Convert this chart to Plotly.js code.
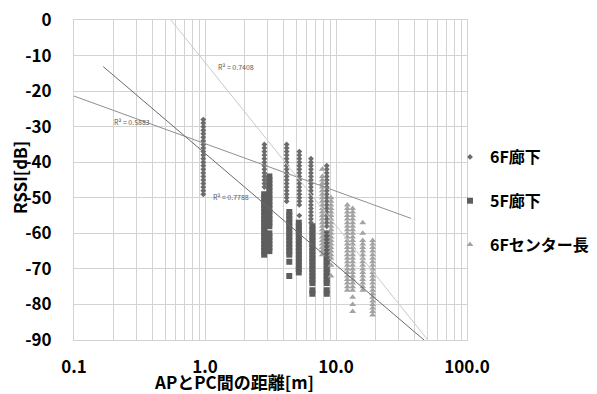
<!DOCTYPE html>
<html><head><meta charset="utf-8">
<script src="https://cdn.plot.ly/plotly-3.0.1.min.js"></script>
<style>html,body{margin:0;padding:0;background:#fff}#chart{width:597px;height:394px}</style>
</head><body><div id="chart"></div>
<script>
// ---- categories / labels ----
const seriesNames = ['6F廊下', '5F廊下', '6Fセンター長'];
const xTickVals = [0.1, 1, 10, 100];
const xTickText = ['0.1', '1.0', '10.0', '100.0'];
const yTickVals = [0, -10, -20, -30, -40, -50, -60, -70, -80, -90];
const yTickText = ['0', '-10', '-20', '-30', '-40', '-50', '-60', '-70', '-80', '-90'];
const xTitle = 'APとPC間の距離[m]';
const yTitle = 'RSSI[dB]';

// ---- 6F廊下 (distance, RSSI readings) ----
const corr6F_x = [0.97, 2.84, 4.2, 5.25, 6.44, 8.5];
const corr6F_y = [
  [-28,-29,-30,-31,-32,-33,-34,-35,-36,-37,-38,-39,-40,-41,-42,-43,-44,-45,-46,-47,-48,-49],
  [-35,-36,-37,-38,-39,-40,-41,-42,-43,-44,-45,-46,-47],
  [-35,-36,-37,-38,-39,-40,-41,-42,-43,-44,-45,-46,-47,-48,-49,-50,-51],
  [-37,-38,-39,-40,-41,-42,-43,-44,-45,-46,-47,-48,-49,-50,-51,-52,-55],
  [-39,-40,-41,-42,-43,-44,-45,-46,-47,-48,-49,-50,-51,-52,-53,-54,-55,-56,-57],
  [-41,-42,-43,-44,-45,-46,-47,-48,-49,-50,-51,-52,-53,-54,-55,-56,-57,-58,-60,-61,-62]
];

// ---- 5F廊下 ----
const corr5F_x = [2.83, 3.1, 4.4, 5.2, 6.6, 8.5];
const corr5F_y = [
  [-49,-50,-51,-52,-53,-54,-55,-56,-57,-58,-59,-60,-61,-62,-63,-64,-65,-66],
  [-44,-45,-46,-47,-48,-49,-50,-51,-52,-53,-54,-55,-56,-57,-58,-60,-61,-62,-63,-64,-65],
  [-54,-55,-56,-57,-58,-59,-60,-61,-62,-63,-64,-65,-66,-68,-72],
  [-57,-58,-59,-60,-61,-62,-63,-64,-65,-66,-67,-68,-69,-70,-71],
  [-58,-59,-60,-61,-62,-63,-64,-65,-66,-67,-68,-69,-70,-71,-72,-73,-74,-76,-77],
  [-60,-61,-62,-63,-64,-65,-66,-67,-68,-69,-70,-71,-72,-73,-74,-76,-77]
];

// ---- 6Fセンター長 ----
const center6F_x = [7.86, 9.16, 12.2, 13.4, 16.0, 19.05];
const center6F_y = [
  [-42,-44,-45,-46,-47,-48,-49,-50,-51,-52,-53,-54,-55,-56,-57,-58,-59,-60,-61,-62,-63,-64,-65,-66],
  [-50,-51,-52,-53,-54,-55,-56,-57,-58,-59,-60,-61,-62,-63,-64,-65,-66,-67,-69,-72],
  [-52,-53,-54,-55,-56,-57,-58,-59,-60,-61,-62,-63,-64,-65,-66,-67,-68,-69,-70,-71,-72,-73,-74,-75,-76],
  [-53,-54,-55,-56,-57,-58,-59,-60,-61,-62,-63,-64,-65,-66,-67,-68,-69,-70,-71,-72,-73,-74,-75,-76,-78,-80,-82],
  [-57,-60,-62,-63,-64,-65,-66,-67,-68,-69,-70,-71,-72,-73,-74,-75,-76],
  [-62,-63,-64,-65,-66,-67,-68,-69,-70,-71,-72,-73,-74,-75,-76,-77,-78,-79,-80,-81,-82,-83]
];

// ---- logarithmic trendlines: y = slope*log10(x) + intercept ----
const trendSlope = [-13.37, -31.4, -45.9];
const trendIntercept = [-34.77, -37.5, -11.93];
const trendXStart = [0.1, 0.167, 0.4];
const trendXEnd = [37.4, 60, 60];
const trendR2 = ['0.5883', '0.7788', '0.7408'];
const trendLabelX = [0.277, 1.58, 1.73];
const trendLabelY = [-28.7, -49.8, -13.2];

// ---- styling ----
const markerColors = ['#6b6b6b', '#5e5e5e', '#a3a3a3'];
const markerSymbols = ['diamond', 'square', 'triangle-up'];
const markerSizes = [4.5, 6, 6];
const trendColors = ['#8f8f8f', '#6a6a6a', '#c9c9c9'];
const FONT = '"Noto Sans CJK JP", "Noto Sans", sans-serif';
const gridColor = '#d3d3d3';

function flatten(xs, ys) {
  const X = [], Y = [];
  xs.forEach((x, i) => ys[i].forEach(v => { X.push(x); Y.push(v); }));
  return {X, Y};
}

const groups = [flatten(corr6F_x, corr6F_y), flatten(corr5F_x, corr5F_y), flatten(center6F_x, center6F_y)];
const traces = groups.map((g, i) => ({
  type: 'scatter', mode: 'markers', x: g.X, y: g.Y, name: seriesNames[i],
  legendgroup: 'g' + i,
  marker: {symbol: markerSymbols[i], size: markerSizes[i], color: markerColors[i], line: {width: 0}},
  cliponaxis: true
}));

trendSlope.forEach((m, i) => {
  const xs = [trendXStart[i], trendXEnd[i]];
  traces.push({
    type: 'scatter', mode: 'lines', x: xs,
    y: xs.map(x => m * Math.log10(x) + trendIntercept[i]),
    line: {color: trendColors[i], width: 1}, showlegend: false, hoverinfo: 'skip'
  });
});

const annotations = trendR2.map((r, i) => ({
  x: Math.log10(trendLabelX[i]), y: trendLabelY[i], xref: 'x', yref: 'y',
  text: 'R² = ' + r, showarrow: false,
  font: {family: FONT, size: 7, color: '#595959'}
}));
annotations.push({
  text: xTitle, xref: 'paper', yref: 'paper', x: 0.406, y: 0, yshift: -41,
  xanchor: 'center', yanchor: 'middle', showarrow: false,
  font: {family: FONT, size: 17, color: '#000', weight: 'bold'}
});
annotations.push({
  text: yTitle, xref: 'paper', yref: 'paper', x: 0, xshift: -55, y: 0.506,
  textangle: -90, xanchor: 'center', yanchor: 'middle', showarrow: false,
  font: {family: FONT, size: 17, color: '#000', weight: 'bold'}
});

const layout = {
  width: 597, height: 394,
  margin: {l: 74, r: 130, t: 20, b: 54, autoexpand: false},
  paper_bgcolor: '#fff', plot_bgcolor: '#fff',
  showlegend: true,
  legend: {
    xref: 'container', yref: 'container',
    x: 450 / 597, xanchor: 'left', y: 1 - 140 / 394, yanchor: 'top',
    font: {family: FONT, size: 16, color: '#000', weight: 'bold'},
    tracegroupgap: 20, bgcolor: 'rgba(0,0,0,0)'
  },
  xaxis: {
    type: 'log', range: [-1, 2],
    tickmode: 'array', tickvals: xTickVals, ticktext: xTickText,
    showgrid: true, gridcolor: gridColor, gridwidth: 1,
    minor: {dtick: 'D1', showgrid: true, gridcolor: gridColor, gridwidth: 1, ticks: ''},
    showline: true, linecolor: gridColor, mirror: true, zeroline: false,
    ticks: 'outside', ticklen: 12, tickcolor: 'rgba(0,0,0,0)',
    tickfont: {family: FONT, size: 17, color: '#000', weight: 'bold'}
  },
  yaxis: {
    range: [-90, 0],
    tickmode: 'array', tickvals: yTickVals, ticktext: yTickText,
    showgrid: true, gridcolor: gridColor, gridwidth: 1,
    showline: true, linecolor: gridColor, mirror: true, zeroline: false,
    ticks: 'outside', ticklen: 18, tickcolor: 'rgba(0,0,0,0)',
    tickfont: {family: FONT, size: 17, color: '#000', weight: 'bold'}
  },
  annotations: annotations
};

Plotly.newPlot('chart', traces, layout, {staticPlot: true, displayModeBar: false});
</script></body></html>
